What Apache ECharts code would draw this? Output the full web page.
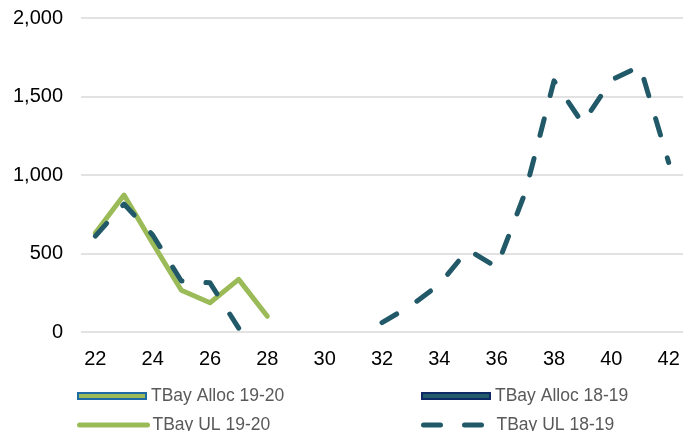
<!DOCTYPE html>
<html>
<head>
<meta charset="utf-8">
<script src="https://cdn.jsdelivr.net/npm/echarts@6/dist/echarts.min.js"></script>
<style>
html,body{margin:0;padding:0;background:#fff;}
#chart{width:684px;height:431px;}
</style>
</head>
<body>
<div id="chart"></div>
<script>
var weeks = ['22','23','24','25','26','27','28','29','30','31','32','33','34','35','36','37','38','39','40','41','42'];
var ul1920 = [630, 872, 565, 266, 186, 335, 100, null, null, null, null, null, null, null, null, null, null, null, null, null, null];
var ul1819 = [611, 815, 618, 325, 313, 25, null, null, null, null, 60, 167, 303, 525, 412, 891, 1600, 1329, 1605, 1693, 1080];
var alloc1920 = [];
var alloc1819 = [];
var yTicks = [0, 500, 1000, 1500, 2000];

var FONT = '"Liberation Sans", Arial, sans-serif';
var chart = echarts.init(document.getElementById('chart'));

function legendAt(name, left, top, icon) {
  var item = { name: name };
  if (!icon) item.itemStyle = { opacity: 0 };
  return {
    data: [item],
    left: left,
    top: top,
    orient: 'horizontal',
    icon: icon,
    itemWidth: 68,
    itemHeight: 6,
    padding: 0,
    selectedMode: false,
    lineStyle: { width: 5, cap: 'round' },
    textStyle: { fontFamily: FONT, fontSize: 17.5, color: '#595959' }
  };
}

chart.setOption({
  animation: false,
  grid: { left: 81, right: 1, top: 18, bottom: 99, containLabel: false },
  legend: [
    legendAt('TBay Alloc 19-20', 77, 387, 'rect'),
    legendAt('TBay Alloc 18-19', 421, 387, 'rect'),
    legendAt('TBay UL 19-20', 77, 416, null),
    legendAt('TBay UL 18-19', 421, 416, null)
  ],
  xAxis: {
    type: 'category',
    data: weeks,
    boundaryGap: true,
    axisLine: { show: false },
    axisTick: { show: false },
    axisLabel: { interval: 1, margin: 17, fontFamily: FONT, fontSize: 20, color: '#000' }
  },
  yAxis: {
    type: 'value',
    min: yTicks[0],
    max: yTicks[yTicks.length - 1],
    interval: 500,
    axisLine: { show: false },
    axisTick: { show: false },
    splitLine: { lineStyle: { color: '#d9d9d9', width: 1.5 } },
    axisLabel: {
      margin: 18, fontFamily: FONT, fontSize: 20, color: '#000',
      formatter: function (v) { return v.toLocaleString('en-US'); }
    }
  },
  series: [
    { name: 'TBay Alloc 19-20', type: 'bar', data: alloc1920,
      itemStyle: { color: '#9bbb59', borderColor: '#1f6aa5', borderWidth: 1.5 } },
    { name: 'TBay Alloc 18-19', type: 'bar', data: alloc1819,
      itemStyle: { color: '#235d6b', borderColor: '#0d2a66', borderWidth: 1.5 } },
    { name: 'TBay UL 19-20', type: 'line', data: ul1920, symbol: 'none', connectNulls: false,
      itemStyle: { color: '#9bbb59' },
      lineStyle: { color: '#9bbb59', width: 5, cap: 'round', join: 'round' } },
    { name: 'TBay UL 18-19', type: 'line', data: ul1819, symbol: 'none', connectNulls: false,
      itemStyle: { color: '#215968' },
      lineStyle: { color: '#215968', width: 5, type: [17, 24], cap: 'round', join: 'round' } }
  ]
});
</script>
</body>
</html>
